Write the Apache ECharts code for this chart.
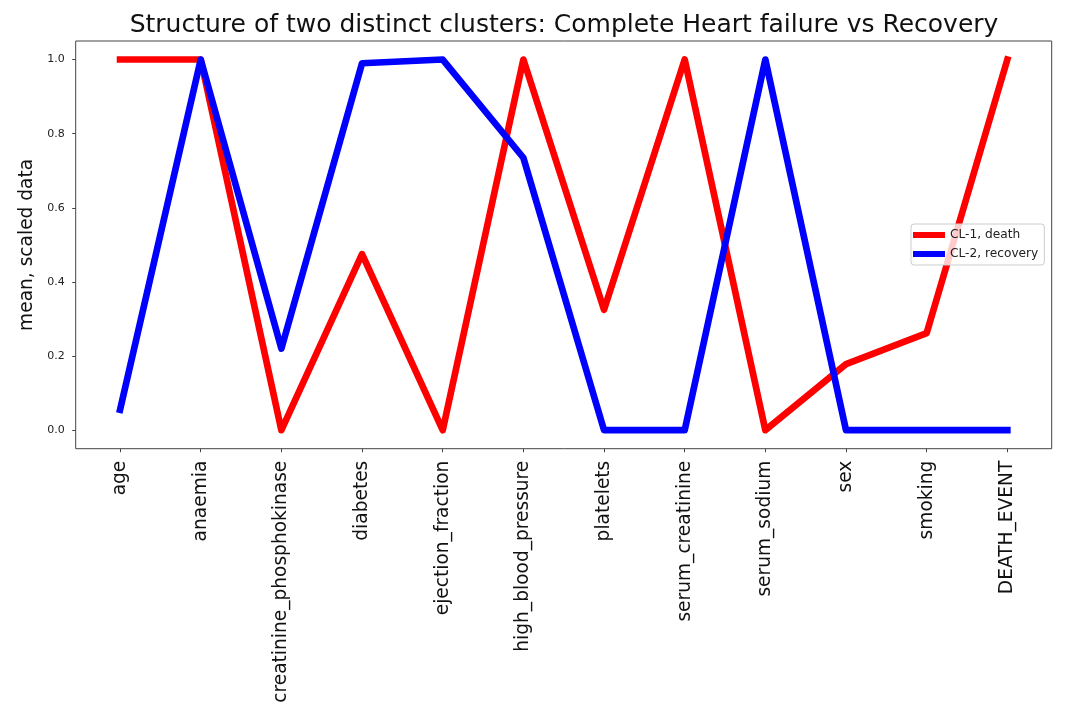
<!DOCTYPE html>
<html><head><meta charset="utf-8">
<script src="https://cdn.jsdelivr.net/npm/echarts@6/dist/echarts.min.js"></script>
<style>html,body{margin:0;padding:0;background:#fff}#c{width:1068px;height:709px}</style>
</head><body><div id="c"></div>
<script>
const categories = ['age', 'anaemia', 'creatinine_phosphokinase', 'diabetes', 'ejection_fraction',
  'high_blood_pressure', 'platelets', 'serum_creatinine', 'serum_sodium', 'sex', 'smoking', 'DEATH_EVENT'];
const cl1Death = [1.0, 1.0, 0.0, 0.475, 0.0, 1.0, 0.325, 1.0, 0.0, 0.178, 0.262, 1.0];
const cl2Recovery = [0.055, 1.0, 0.22, 0.99, 1.0, 0.735, 0.0, 0.0, 1.0, 0.0, 0.0, 0.0];
const yTicks = [0, 0.2, 0.4, 0.6, 0.8, 1.0];
const xTicks = categories.map((_, i) => i);

const FONT = 'DejaVu Sans';
const TITLE = 'Structure of two distinct clusters: Complete Heart failure vs Recovery';
const TITLE_SIZE = 25;
const ctx = document.createElement('canvas').getContext('2d');
ctx.font = TITLE_SIZE + 'px "' + FONT + '"';
const titleW = ctx.measureText(TITLE).width;

const chart = echarts.init(document.getElementById('c'), null, {renderer: 'canvas'});
chart.setOption({
  animation: false,
  backgroundColor: '#fff',
  title: {
    text: TITLE,
    left: 564 - titleW / 2, top: 13, padding: 0,
    textStyle: {fontFamily: FONT, fontSize: TITLE_SIZE, fontWeight: 'normal', color: '#111'}
  },
  legend: {
    orient: 'vertical', left: 911, top: 224,
    padding: [3, 6, 3, 2], itemGap: 3, itemWidth: 32, itemHeight: 6,
    backgroundColor: 'rgba(255,255,255,0.8)', borderColor: '#cccccc', borderWidth: 1, borderRadius: 3,
    textStyle: {fontFamily: FONT, fontSize: 12.2, lineHeight: 16, color: '#222'},
    data: [{name: 'CL-1, death', icon: 'rect'}, {name: 'CL-2, recovery', icon: 'rect'}]
  },
  grid: {left: 75.7, right: 16.3, top: 41, bottom: 260.3, outerBoundsMode: 'none', containLabel: false,
    show: true, borderColor: '#444', borderWidth: 1, backgroundColor: 'transparent'},
  xAxis: {
    type: 'value', min: -0.55, max: 11.55,
    name: 'variables', nameLocation: 'middle', nameGap: 254,
    nameTextStyle: {fontFamily: FONT, fontSize: 18.6, color: '#111'},
    axisLine: {show: false, onZero: false},
    splitLine: {show: false},
    axisTick: {show: true, length: 3.5, lineStyle: {color: '#444'}, customValues: xTicks},
    axisLabel: {rotate: 90, margin: 12, fontFamily: FONT, fontSize: 18.6, color: '#111', customValues: xTicks,
      formatter: v => categories[Math.round(v)]}
  },
  yAxis: {
    type: 'value', min: -0.05, max: 1.05,
    name: 'mean, scaled data', nameLocation: 'middle', nameGap: 31,
    nameTextStyle: {fontFamily: FONT, fontSize: 18.6, color: '#111'},
    axisLine: {show: false, onZero: false},
    splitLine: {show: false},
    axisTick: {show: true, length: 3.5, lineStyle: {color: '#444'}, customValues: yTicks},
    axisLabel: {margin: 11, fontFamily: FONT, fontSize: 11, color: '#222', customValues: yTicks,
      formatter: v => v.toFixed(1)}
  },
  series: [
    {name: 'CL-1, death', type: 'line', color: '#ff0000', showSymbol: false, symbol: 'none',
      lineStyle: {width: 6.67, color: '#ff0000', cap: 'square', join: 'round'},
      data: cl1Death.map((v, i) => [i, v])},
    {name: 'CL-2, recovery', type: 'line', color: '#0000ff', showSymbol: false, symbol: 'none',
      lineStyle: {width: 6.67, color: '#0000ff', cap: 'square', join: 'round'},
      data: cl2Recovery.map((v, i) => [i, v])}
  ]
});
</script></body></html>
